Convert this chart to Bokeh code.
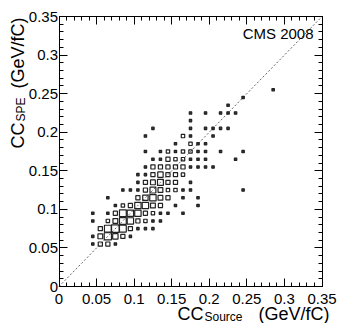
import math
from bokeh.plotting import figure
from bokeh.models import (Range1d, FixedTicker, LinearAxis, CustomJSTickFormatter, Label)
from bokeh.embed import file_html
from bokeh.resources import INLINE

# ---- data: 2D histogram bins (bin centres) and estimated counts ----
bin_x = [
    0.285,
    0.245,
    0.225,
    0.175, 0.195, 0.215, 0.225, 0.235,
    0.175,
    0.125, 0.175, 0.195, 0.205, 0.215, 0.225,
    0.115, 0.165, 0.175, 0.205,
    0.155, 0.175, 0.185, 0.195,
    0.115, 0.135, 0.145, 0.155, 0.165, 0.175, 0.185, 0.195, 0.215, 0.245,
    0.125, 0.135, 0.145, 0.155, 0.165, 0.175, 0.185, 0.195, 0.235,
    0.115, 0.125, 0.135, 0.145, 0.155, 0.165, 0.175, 0.185, 0.195, 0.205,
    0.105, 0.115, 0.125, 0.135, 0.145, 0.155, 0.165,
    0.105, 0.115, 0.125, 0.135, 0.145, 0.155, 0.175,
    0.085, 0.095, 0.105, 0.115, 0.125, 0.135, 0.145, 0.155, 0.165, 0.175, 0.245,
    0.065, 0.105, 0.115, 0.125, 0.135, 0.145, 0.165, 0.185,
    0.075, 0.085, 0.095, 0.105, 0.115, 0.125, 0.135, 0.155, 0.185,
    0.045, 0.065, 0.075, 0.085, 0.095, 0.105, 0.115, 0.125, 0.135, 0.145, 0.165,
    0.045, 0.065, 0.075, 0.085, 0.095, 0.105, 0.115, 0.125, 0.135,
    0.055, 0.065, 0.075, 0.085, 0.095, 0.105, 0.115, 0.125,
    0.045, 0.055, 0.065, 0.075, 0.085, 0.095,
    0.045, 0.055, 0.065, 0.075,
]
bin_y = (
    [0.255] * 1 + [0.245] * 1 + [0.235] * 1 + [0.225] * 5 + [0.215] * 1 +
    [0.205] * 6 + [0.195] * 4 + [0.185] * 4 + [0.175] * 10 + [0.165] * 9 +
    [0.155] * 10 + [0.145] * 7 + [0.135] * 7 + [0.125] * 11 + [0.115] * 8 +
    [0.105] * 9 + [0.095] * 11 + [0.085] * 9 + [0.075] * 8 + [0.065] * 6 +
    [0.055] * 4
)
counts = [
    1,
    1,
    1,
    1, 1, 1, 1, 1,
    1,
    1, 1, 1, 1, 1, 1,
    1, 2, 1, 1,
    1, 2, 1, 1,
    1, 1, 2, 1, 2, 2, 1, 1, 1, 1,
    1, 1, 3, 2, 2, 1, 1, 1, 1,
    1, 3, 3, 3, 3, 3, 1, 1, 1, 1,
    1, 1, 3, 5, 3, 3, 2,
    1, 3, 4, 6, 3, 3, 1,
    1, 1, 1, 3, 6, 4, 2, 2, 1, 1, 1,
    1, 3, 5, 7, 4, 3, 1, 1,
    1, 2, 3, 7, 7, 4, 3, 1, 1,
    1, 1, 3, 8, 7, 7, 3, 2, 1, 1, 1,
    1, 2, 4, 8, 7, 3, 2, 1, 1,
    3, 8, 10, 8, 3, 1, 1, 1,
    1, 4, 9, 5, 3, 1,
    1, 3, 3, 1,
]
diag_x = [0.0, 0.35]
diag_y = [0.0, 0.35]
AX_MIN, AX_MAX = 0.0, 0.35
tick_vals = [0.0, 0.05, 0.10, 0.15, 0.20, 0.25, 0.30, 0.35]
minor_vals = [round(i * 0.01, 2) for i in range(36)]

# ---- layout (canvas px): the data box sits at these pixel edges ----
W, H = 337, 323
XL, XR, YT, YB = 58.5, 321.5, 16.0, 286.0
ppx = (XR - XL) / (AX_MAX - AX_MIN)
ppy = (YB - YT) / (AX_MAX - AX_MIN)
x_rng = Range1d(AX_MIN - XL / ppx, AX_MIN + (W - XL) / ppx)
y_rng = Range1d(AX_MIN - (H - YB) / ppy, AX_MIN + YB / ppy)

max_c = max(counts)
box_px = [7.6 * (c / max_c) ** 0.5 for c in counts]
box_fill = [0.9 if s < 3.0 else 0.0 for s in box_px]

p = figure(width=W, height=H, x_range=x_rng, y_range=y_rng,
           output_backend="svg", toolbar_location=None,
           min_border_left=0, min_border_right=0,
           min_border_top=0, min_border_bottom=0,
           x_axis_location=None, y_axis_location=None)
p.background_fill_color = "white"
p.border_fill_color = "white"
p.outline_line_color = None
p.xgrid.visible = False
p.ygrid.visible = False

FONT = "Liberation Sans"
fmt = CustomJSTickFormatter(code="return tick.toFixed(2).replace(/0+$/,'').replace(/\\.$/,'');")

def make_axis(loc, show_labels, standoff):
    ax = LinearAxis(ticker=FixedTicker(ticks=tick_vals, minor_ticks=minor_vals),
                    formatter=fmt, fixed_location=loc, bounds=(AX_MIN, AX_MAX))
    ax.major_tick_in = 8
    ax.major_tick_out = 0
    ax.minor_tick_in = 4
    ax.minor_tick_out = 0
    ax.axis_line_color = "black"
    ax.axis_line_width = 1
    ax.major_tick_line_color = "black"
    ax.minor_tick_line_color = "black"
    if show_labels:
        ax.major_label_text_font = FONT
        ax.major_label_text_font_size = "15px"
        ax.major_label_text_color = "black"
        ax.major_label_standoff = standoff
    else:
        ax.major_label_text_font_size = "1px"
        ax.major_label_text_color = None
        ax.major_label_standoff = 0
    return ax

p.add_layout(make_axis(AX_MIN, True, 7), "below")
p.add_layout(make_axis(AX_MIN, True, 1), "left")
p.add_layout(make_axis(AX_MAX, False, 0), "above")
p.add_layout(make_axis(AX_MAX, False, 0), "right")

p.line(diag_x, diag_y, line_color="#666666", line_dash="2 2", line_width=1)
p.rect(x=bin_x, y=bin_y, width=box_px, height=box_px,
       width_units="screen", height_units="screen",
       fill_color="#222222", fill_alpha=box_fill,
       line_color="#222222", line_width=1.2)

def add_label(text, cx, cy, size, angle=0.0, align="left", baseline="alphabetic"):
    p.add_layout(Label(x=cx, y=cy, x_units="canvas", y_units="canvas", text=text, angle=angle,
                       text_font=FONT, text_font_size=size, text_color="black",
                       text_align=align, text_baseline=baseline))

# x-axis title
add_label("CC", 177, 313, "18px")
add_label("Source", 204, 316, "12px")
add_label("(GeV/fC)", 258, 313, "18px")
# y-axis title (rotated)
add_label("CC", 17, 148, "18px", angle=math.pi / 2)
add_label("SPE", 20, 121, "12px", angle=math.pi / 2)
add_label("(GeV/fC)", 17, 88, "18px", angle=math.pi / 2)
# experiment tag
add_label("CMS 2008", 313, 33, "15px", align="right", baseline="middle")

open("out.html", "w").write(file_html(p, INLINE))
